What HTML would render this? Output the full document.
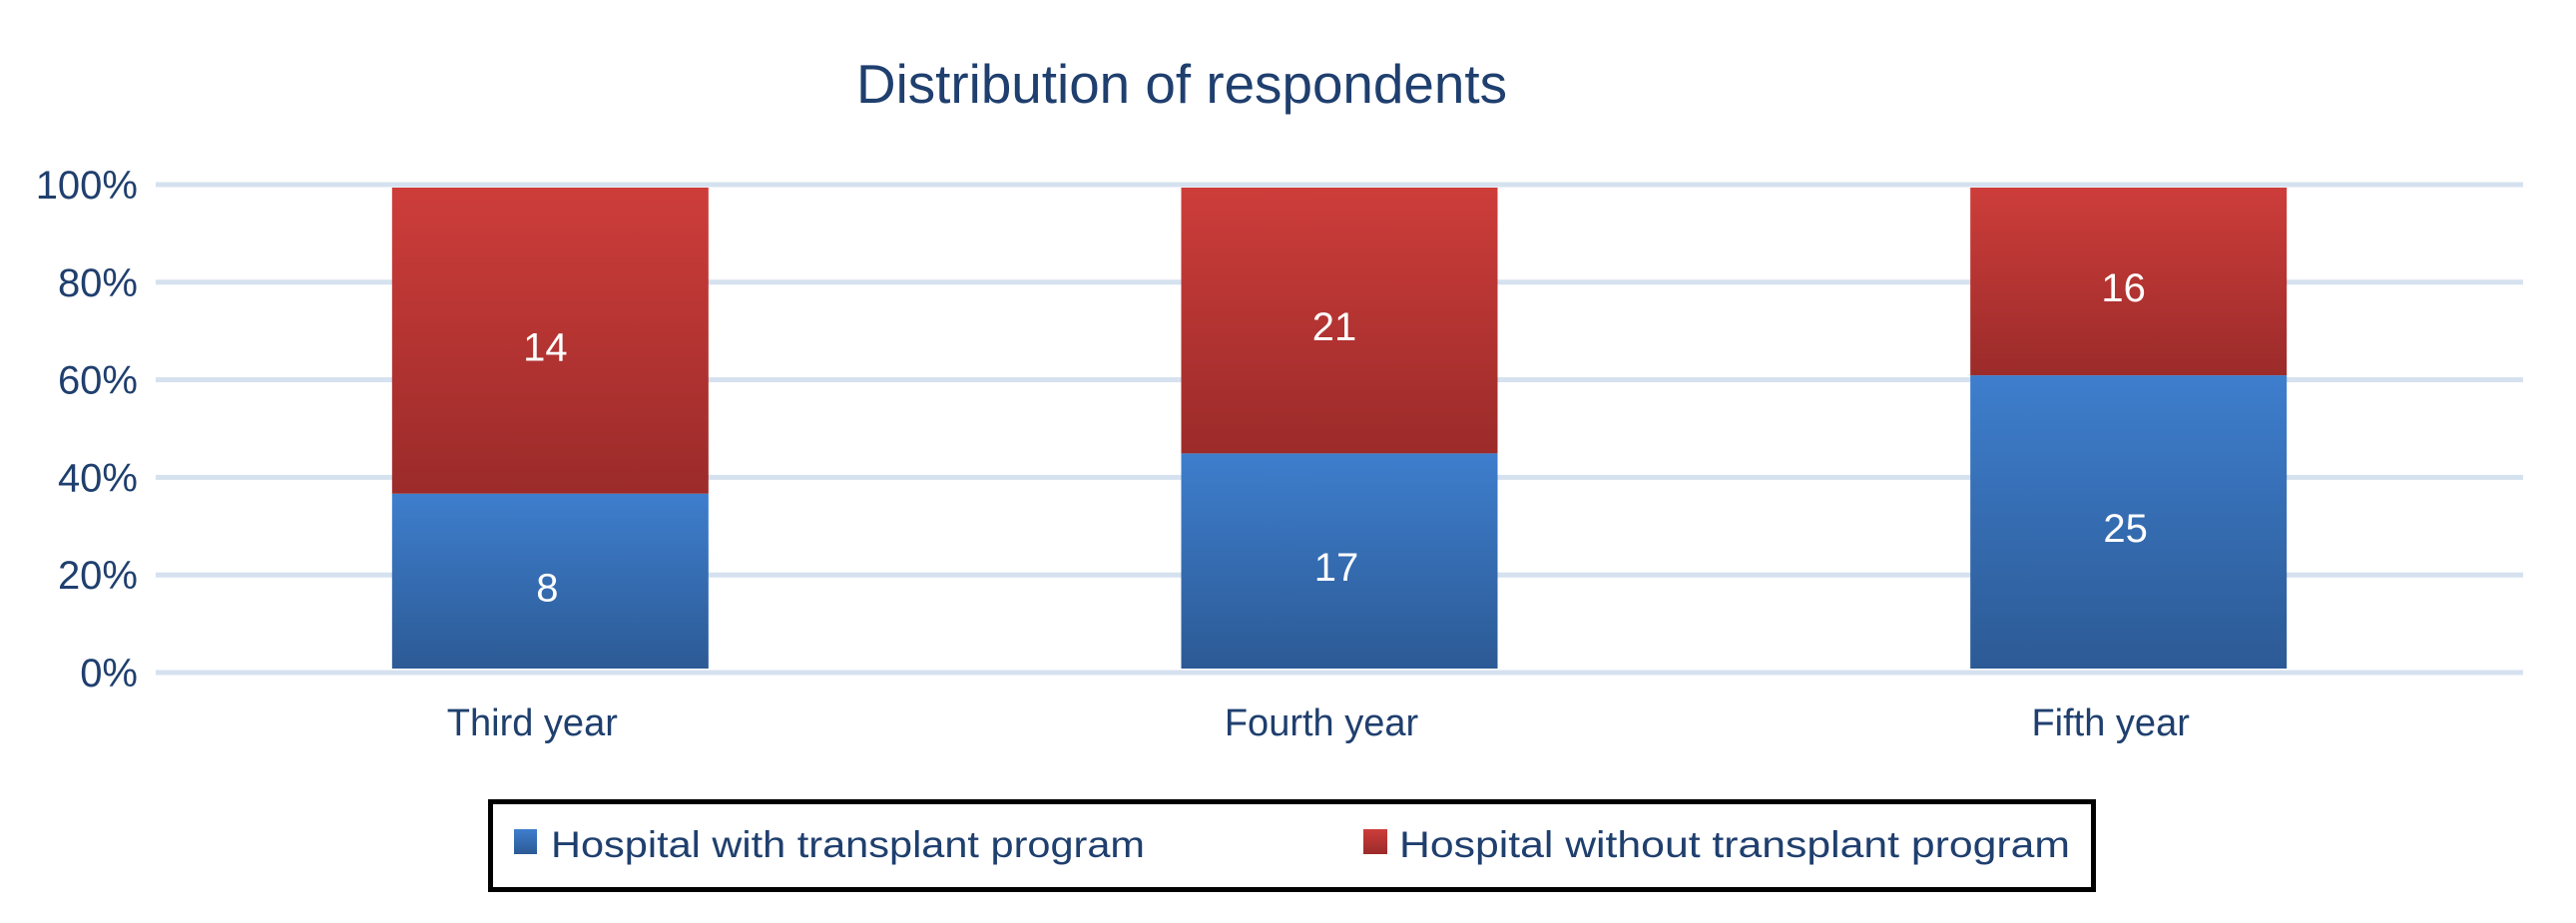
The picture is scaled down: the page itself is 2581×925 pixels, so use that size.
<!DOCTYPE html>
<html><head><meta charset="utf-8"><style>
html,body{margin:0;padding:0;background:#fff;}
svg{display:block;font-family:"Liberation Sans",Arial,sans-serif;}
</style></head><body>
<svg id="chart" width="2581" height="925" viewBox="0 0 2581 925" xmlns="http://www.w3.org/2000/svg">
<defs>
<linearGradient id="gBlue" x1="0" y1="0" x2="0" y2="1"><stop offset="0" stop-color="#3e7ecd"/><stop offset="1" stop-color="#2c5a95"/></linearGradient>
<linearGradient id="gRed" x1="0" y1="0" x2="0" y2="1"><stop offset="0" stop-color="#cd3d3a"/><stop offset="1" stop-color="#9b2b2a"/></linearGradient>
</defs>
<text x="858" y="103" font-size="55" fill="#1f3f6e" textLength="652" lengthAdjust="spacingAndGlyphs">Distribution of respondents</text>
<g id="grid"></g><g id="bars"></g><g id="xlabels"></g>
<g>
<rect x="491.5" y="803.5" width="1606" height="88" fill="#fff" stroke="#000" stroke-width="5"/>
<rect x="515" y="831" width="23" height="25" fill="url(#gBlue)"/>
<text x="552" y="859" font-size="37" fill="#1f3f6e" textLength="595" lengthAdjust="spacingAndGlyphs">Hospital with transplant program</text>
<rect x="1366" y="831" width="24" height="25" fill="url(#gRed)"/>
<text x="1402" y="859" font-size="37" fill="#1f3f6e" textLength="672" lengthAdjust="spacingAndGlyphs">Hospital without transplant program</text>
</g>
</svg>
<script>
const categories = ["Third year", "Fourth year", "Fifth year"];
const withProgram = [8, 17, 25];
const withoutProgram = [14, 21, 16];
const yTicks = [0, 20, 40, 60, 80, 100];
const yTickLabels = ["0%", "20%", "40%", "60%", "80%", "100%"];

const NS = "http://www.w3.org/2000/svg";
const plotL = 156, plotR = 2528;
const gridY = p => 674 - p / 100 * 489;
const barY = p => 670 - p / 100 * 482;
const bandW = (plotR - plotL) / categories.length;
const xCenter = i => plotL + bandW * (i + 0.5);
const barW = 317;
function mk(tag, attrs, parent) { const e = document.createElementNS(NS, tag); for (const k in attrs) e.setAttribute(k, attrs[k]); parent.appendChild(e); return e; }

const grid = document.getElementById("grid");
yTicks.forEach((t, i) => {
  const l = mk("rect", {x: plotL, y: gridY(t) - 2.5, width: plotR - plotL, height: 5, fill: "#d5e1ef"}, grid);
  
  
  const tx = mk("text", {x: 138, y: gridY(t) + 14, "font-size": 40, fill: "#1f3f6e", "text-anchor": "end"}, grid);
  tx.textContent = yTickLabels[i];
  
  
});

const bars = document.getElementById("bars");
const xl = document.getElementById("xlabels");
categories.forEach((c, i) => {
  const tot = withProgram[i] + withoutProgram[i];
  const pb = withProgram[i] / tot * 100;
  const cx = xCenter(i), x0 = cx - barW / 2;
  const b = mk("rect", {x: x0, y: barY(pb), width: barW, height: barY(0) - barY(pb), fill: "url(#gBlue)"}, bars);
  
  
  const r = mk("rect", {x: x0, y: barY(100), width: barW, height: barY(pb) - barY(100), fill: "url(#gRed)"}, bars);
  
  
  const vb = mk("text", {x: cx - 3, y: (barY(0) + barY(pb)) / 2 + 20, "font-size": 40, fill: "#fff", "text-anchor": "middle"}, bars);
  vb.textContent = withProgram[i];
  
  
  const vr = mk("text", {x: cx - 5, y: (barY(pb) + barY(100)) / 2 + 20, "font-size": 40, fill: "#fff", "text-anchor": "middle"}, bars);
  vr.textContent = withoutProgram[i];
  
  
  const t = mk("text", {x: cx - 18, y: 737, "font-size": 38, fill: "#1f3f6e", "text-anchor": "middle"}, xl);
  t.textContent = c;
  
  
});
</script>
</body></html>
